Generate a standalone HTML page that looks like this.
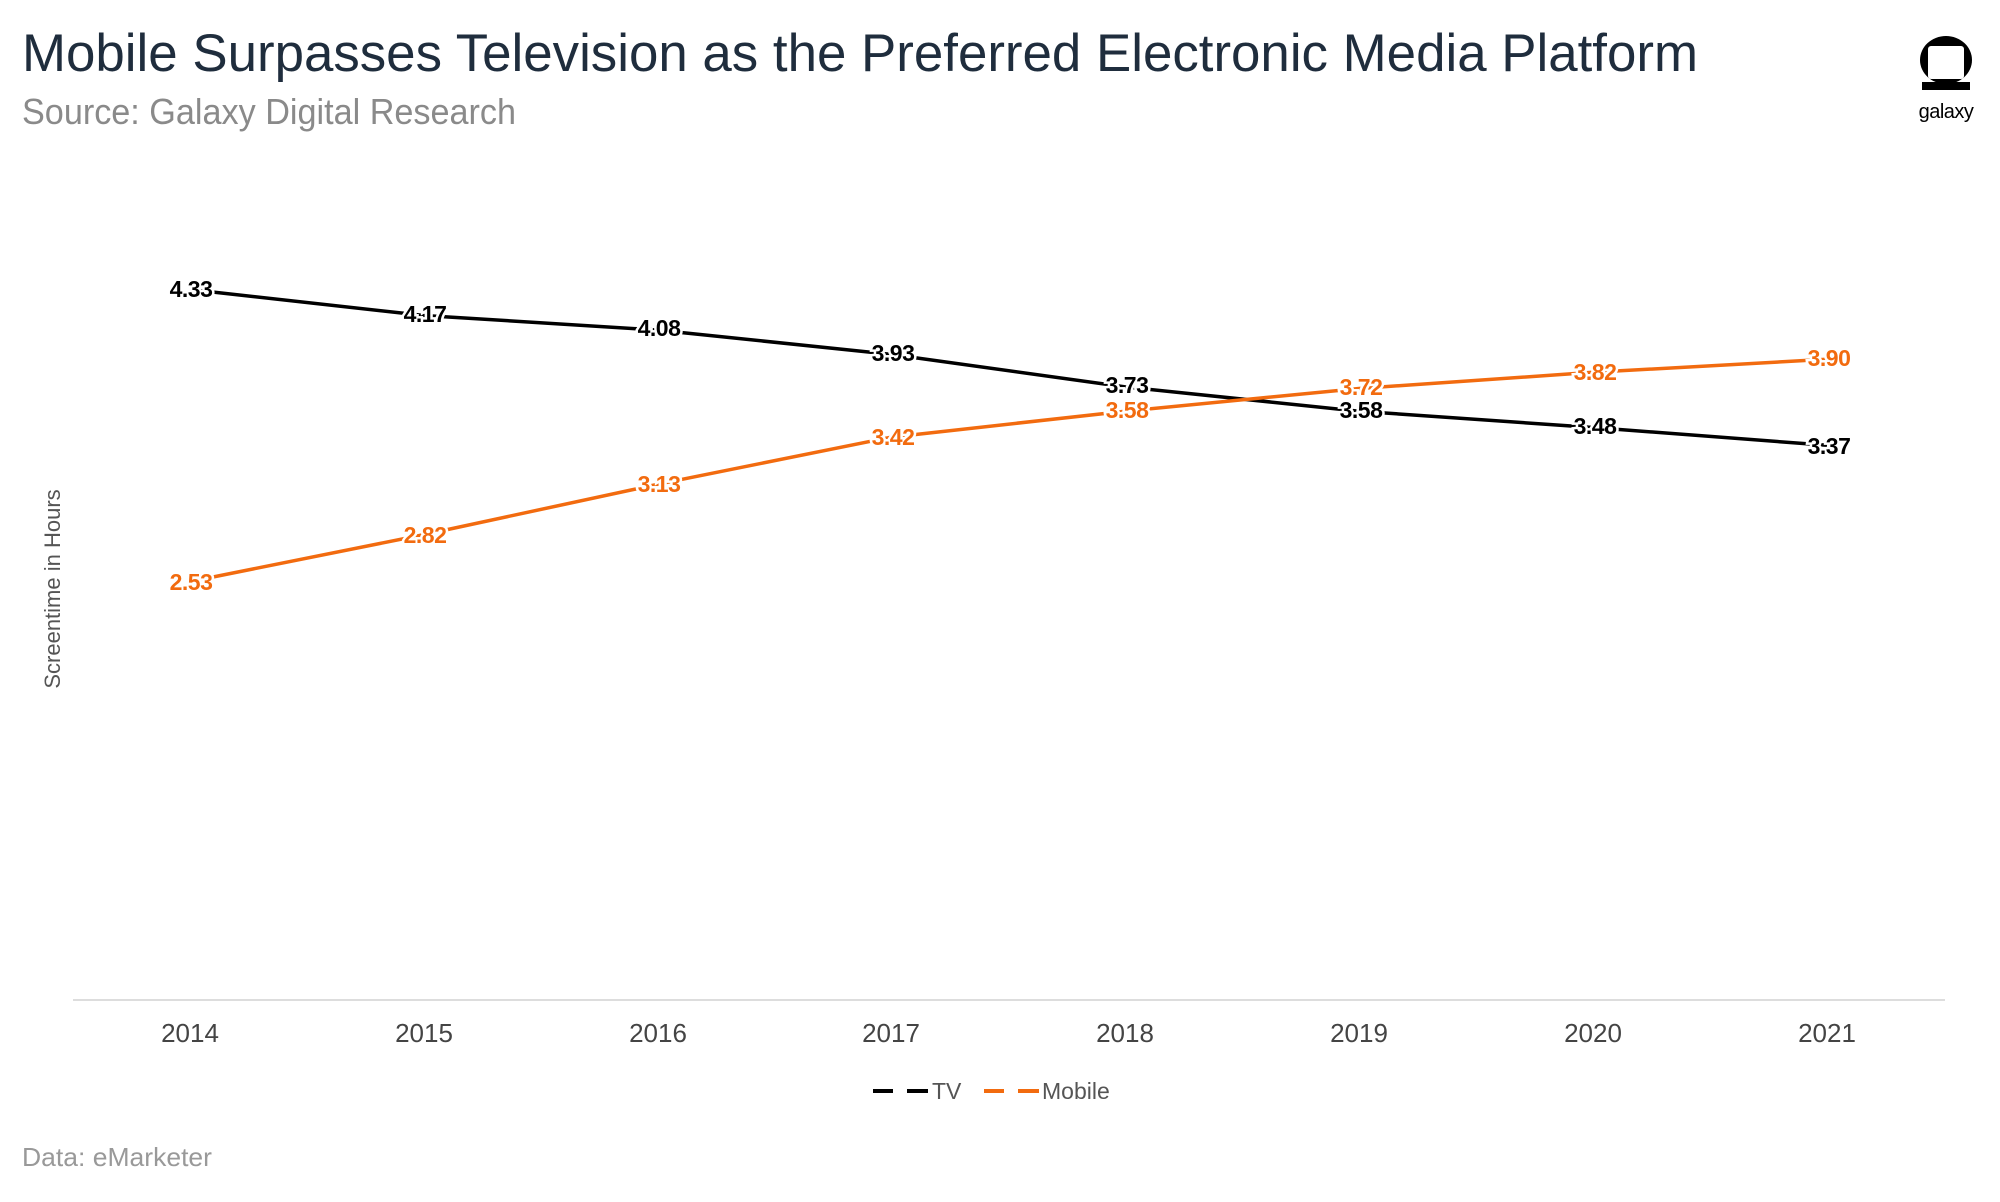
<!DOCTYPE html>
<html><head><meta charset="utf-8"><style>
body{margin:0;background:#fff;width:2000px;height:1197px;overflow:hidden}
text{font-family:"Liberation Sans",sans-serif}
</style></head><body>
<svg width="2000" height="1197" xmlns="http://www.w3.org/2000/svg">
<text x="22" y="71" font-size="53" fill="#1f2d3d" textLength="1676" lengthAdjust="spacingAndGlyphs">Mobile Surpasses Television as the Preferred Electronic Media Platform</text>
<text x="22" y="124" font-size="36" fill="#8a8a8a" textLength="494" lengthAdjust="spacingAndGlyphs">Source: Galaxy Digital Research</text>
<ellipse cx="1946" cy="60" rx="26" ry="24" fill="#000"/>
<rect x="1928" y="46" width="36" height="33" rx="3" fill="#fff"/>
<rect x="1922" y="82" width="48" height="8" fill="#000"/>
<text x="1946" y="118" font-size="20" fill="#000" text-anchor="middle" letter-spacing="-0.5">galaxy</text>
<text transform="translate(60,589) rotate(-90)" font-size="22" fill="#555" text-anchor="middle">Screentime in Hours</text>
<line x1="73" y1="1000" x2="1945" y2="1000" stroke="#ddd" stroke-width="2"/>
<g font-size="26" fill="#444" text-anchor="middle">
<text x="190" y="1042">2014</text><text x="424" y="1042">2015</text><text x="658" y="1042">2016</text><text x="891" y="1042">2017</text><text x="1125" y="1042">2018</text><text x="1359" y="1042">2019</text><text x="1593" y="1042">2020</text><text x="1827" y="1042">2021</text>
</g>
<polyline fill="none" stroke="#000" stroke-width="3.5" points="190,289.5 424,315.5 658,330.1 891,354.4 1125,386.9 1359,411.2 1593,427.5 1827,445.3"/>
<polyline fill="none" stroke="#f26b0f" stroke-width="3.5" points="190,581.6 424,534.6 658,484.2 891,437.2 1125,411.2 1359,388.5 1593,372.3 1827,359.3"/>
<g font-size="23" font-weight="bold" text-anchor="middle" stroke="#fff" stroke-width="5" paint-order="stroke" letter-spacing="-0.5">
<g fill="#000">
<text x="191" y="297">4.33</text><text x="425" y="322">4.17</text><text x="659" y="336">4.08</text><text x="893" y="361">3.93</text><text x="1127" y="393">3.73</text><text x="1361" y="418">3.58</text><text x="1595" y="434">3.48</text><text x="1829" y="454">3.37</text>
</g>
<g fill="#f26b0f">
<text x="191" y="590">2.53</text><text x="425" y="543">2.82</text><text x="659" y="492">3.13</text><text x="893" y="445">3.42</text><text x="1127" y="418">3.58</text><text x="1361" y="395">3.72</text><text x="1595" y="380">3.82</text><text x="1829" y="366">3.90</text>
</g>
</g>
<g stroke-width="4">
<line x1="873" y1="1091" x2="893" y2="1091" stroke="#000"/><line x1="907" y1="1091" x2="928" y2="1091" stroke="#000"/>
<line x1="984" y1="1091" x2="1004" y2="1091" stroke="#f26b0f"/><line x1="1018" y1="1091" x2="1039" y2="1091" stroke="#f26b0f"/>
</g>
<text x="932" y="1099" font-size="23" fill="#555">TV</text>
<text x="1042" y="1099" font-size="23" fill="#555">Mobile</text>
<text x="22" y="1166" font-size="26" fill="#999" textLength="190" lengthAdjust="spacingAndGlyphs">Data: eMarketer</text>
</svg>
</body></html>
